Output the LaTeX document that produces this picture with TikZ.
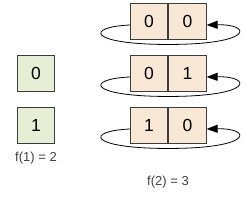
\documentclass[tikz,border=0pt]{standalone}
\usepackage{fontspec}
\setmainfont{Liberation Sans}
\usetikzlibrary{arrows.meta, positioning}
\definecolor{cellgreen}{RGB}{232,237,214}
\definecolor{cellpeach}{RGB}{250,232,214}
\definecolor{cellline}{RGB}{60,60,60}

\begin{document}
\begin{tikzpicture}[
    x=1pt, y=-1pt,
    cell/.style={rectangle, draw=cellline, line width=0.9pt, minimum width=37.5pt, minimum height=36pt, inner sep=0pt, font=\fontsize{17.5}{20}\selectfont},
    gcell/.style={cell, fill=cellgreen},
    pcell/.style={cell, fill=cellpeach},
    lbl/.style={font=\fontsize{13}{15}\selectfont, text=black!75},
    loop/.style={line width=0.8pt, -{Triangle[length=11pt,width=8pt]}}
]
\useasboundingbox (0,0) rectangle (245,202);
% one-digit strings
\node[gcell] (g0) at (36,73) {0};
\node[gcell] (g1) at (36,125) {1};
\node[lbl] (f1) at (36,158) {f(1) = 2};
% two-digit strings
\node[pcell] (a1) at (149,21) {0};
\node[pcell, right=0pt of a1] (a2) {0};
\node[pcell] (b1) at (149,73) {0};
\node[pcell, right=0pt of b1] (b2) {1};
\node[pcell] (c1) at (149,125) {1};
\node[pcell, right=0pt of c1] (c2) {0};
\node[lbl] (f2) at (168,182) {f(2) = 3};
% wrap-around loops
\draw[loop] ([yshift=-4pt]a1.west) .. controls +(-45,2) and +(-80,0) .. ([yshift=-5pt]a1.south east)
    .. controls +(87,0) and +(45,-1) .. ([yshift=-4pt]a2.east);
\draw[loop] ([yshift=-4pt]b1.west) .. controls +(-45,2) and +(-80,0) .. ([yshift=-5pt]b1.south east)
    .. controls +(87,0) and +(45,-1) .. ([yshift=-4pt]b2.east);
\draw[loop] ([yshift=-4pt]c1.west) .. controls +(-45,2) and +(-80,0) .. ([yshift=-5pt]c1.south east)
    .. controls +(87,0) and +(45,-1) .. ([yshift=-4pt]c2.east);
\end{tikzpicture}
\end{document}
